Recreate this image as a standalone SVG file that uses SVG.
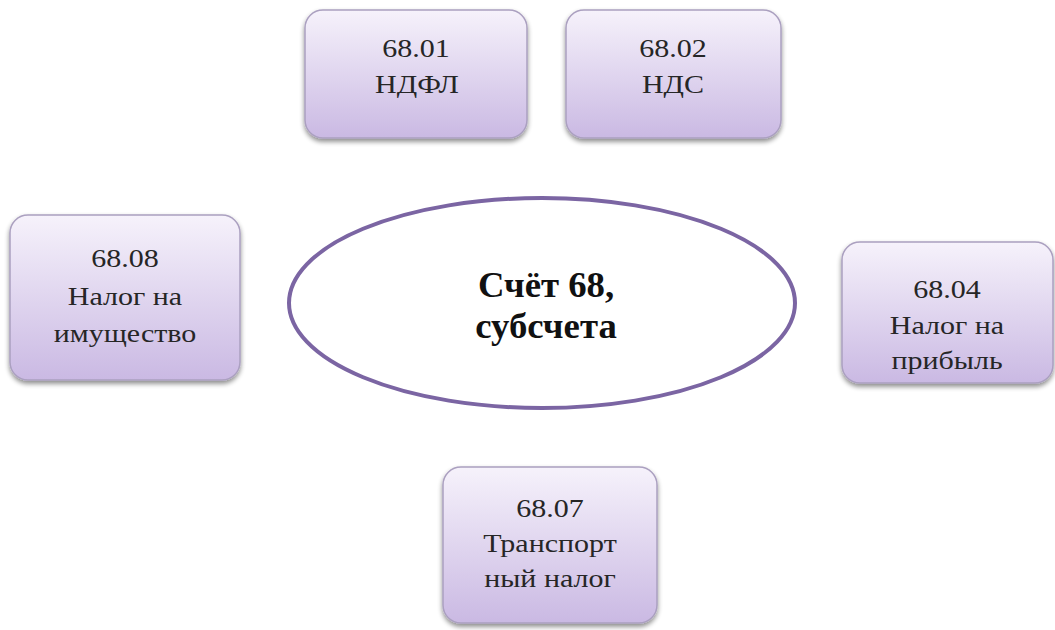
<svg xmlns="http://www.w3.org/2000/svg" width="1055" height="630" viewBox="0 0 1055 630">
<defs>
<linearGradient id="g" x1="0" y1="0" x2="0" y2="1">
<stop offset="0" stop-color="#f6f2fb"/>
<stop offset="1" stop-color="#cab9e3"/>
</linearGradient>
<filter id="sh" x="-10%" y="-10%" width="120%" height="130%">
<feGaussianBlur in="SourceAlpha" stdDeviation="2.5"/>
<feOffset dx="0" dy="3" result="b"/>
<feComponentTransfer><feFuncA type="linear" slope="0.45"/></feComponentTransfer>
<feMerge><feMergeNode/><feMergeNode in="SourceGraphic"/></feMerge>
</filter>
</defs>
<style>
.box{fill:url(#g);stroke:#aba0c0;stroke-width:1.5;filter:url(#sh)}
.t{font-family:'Liberation Serif','Times New Roman','DejaVu Serif',serif;font-size:25px;fill:#262626;text-anchor:middle}
.c{font-family:'Liberation Serif','Times New Roman','DejaVu Serif',serif;font-size:35px;font-weight:bold;fill:#111;text-anchor:middle}
</style>
<rect width="1055" height="630" fill="#fff"/>
<g id="connectors"></g>
<g id="center">
<ellipse cx="542" cy="303" rx="253" ry="105" fill="#fff" stroke="#7b65a3" stroke-width="4"/>
<text class="c" transform="translate(546,297) scale(1.05,1)">Счёт 68,</text>
<text class="c" transform="translate(546,338) scale(1.05,1)">субсчета</text>
</g>
<g id="n6801">
<rect class="box" x="305" y="10" width="222" height="128" rx="18"/>
<text class="t" transform="translate(416,57) scale(1.2,1)">68.01</text>
<text class="t" transform="translate(417,93) scale(1.2,1)">НДФЛ</text>
</g>
<g id="n6802">
<rect class="box" x="566" y="10" width="215" height="128" rx="18"/>
<text class="t" transform="translate(673,57) scale(1.2,1)">68.02</text>
<text class="t" transform="translate(673,93) scale(1.2,1)">НДС</text>
</g>
<g id="n6808">
<rect class="box" x="10" y="215" width="230" height="165" rx="18"/>
<text class="t" transform="translate(125,267) scale(1.2,1)">68.08</text>
<text class="t" transform="translate(125,305) scale(1.2,1)">Налог на</text>
<text class="t" transform="translate(125,342) scale(1.2,1)">имущество</text>
</g>
<g id="n6804">
<rect class="box" x="842" y="242" width="211" height="141" rx="18"/>
<text class="t" transform="translate(947,298) scale(1.2,1)">68.04</text>
<text class="t" transform="translate(947,334) scale(1.2,1)">Налог на</text>
<text class="t" transform="translate(947,369) scale(1.2,1)">прибыль</text>
</g>
<g id="n6807">
<rect class="box" x="443" y="467" width="214" height="156" rx="18"/>
<text class="t" transform="translate(550,517) scale(1.2,1)">68.07</text>
<text class="t" transform="translate(550,552) scale(1.2,1)">Транспорт</text>
<text class="t" transform="translate(550,587) scale(1.2,1)">ный налог</text>
</g>
</svg>
